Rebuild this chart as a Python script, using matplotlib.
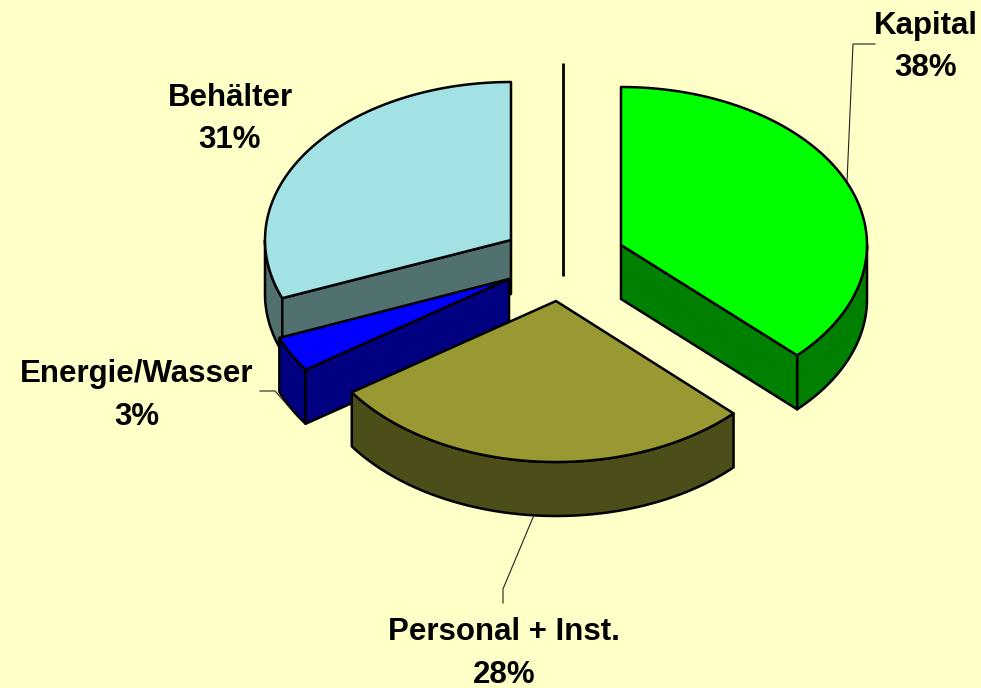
import numpy as np
import matplotlib
matplotlib.use("Agg")
import matplotlib.pyplot as plt
from matplotlib.patches import Polygon

# data
categories = ["Kapital", "Personal + Inst.", "Energie/Wasser", "Behälter"]
shares = [37.3, 28.1, 3.6, 31.0]          # slice shares
pct_labels = ["38%", "28%", "3%", "31%"]

# styles / layout (pixel space of the 981x688 image)
top_colors = ["#00FF00", "#999933", "#0000FF", "#A2E2E4"]
side_colors = ["#008000", "#4D4D19", "#000080", "#517070"]
apexes = [(621, 245), (556, 301), (509, 279), (511, 240)]
radii = [(246, 158), (248, 161), (247, 160), (246, 158)]
label_pos = [(926, 47), (504, 653.5), (137, 395.5), (230, 119)]
leaders = [[(875, 44), (853, 44), (847, 182)],
           [(503, 603), (503, 589), (534, 515)],
           [(260, 391), (275, 391), (290, 408)]]
DEPTH = 54
BG = "#FFFFC8"
plt.rcParams["font.family"] = ["Liberation Sans", "DejaVu Sans"]

fig = plt.figure(figsize=(9.81, 6.88), dpi=100, facecolor=BG)
ax = fig.add_axes([0, 0, 1, 1])
ax.set_xlim(0, 981)
ax.set_ylim(688, 0)
ax.axis("off")


def rim(apex, rad, t0, t1):
    t = np.radians(np.linspace(t0, t1, 80))
    return np.column_stack([apex[0] + rad[0] * np.sin(t), apex[1] - rad[1] * np.cos(t)])


def poly(pts, color, z):
    ax.add_patch(Polygon(pts, closed=True, facecolor=color, edgecolor="black",
                         linewidth=1.8, joinstyle="round", zorder=z))


edges = np.concatenate([[0], np.cumsum(shares)]) / np.sum(shares) * 360
down = np.array([0, DEPTH])
for i, z in zip([3, 2, 0, 1], [1, 2, 3, 4]):
    t0, t1 = edges[i], edges[i + 1]
    a = np.array(apexes[i], dtype=float)
    rad = radii[i]
    # outer wall: only the part of the rim on the front half (t in 90..270)
    lo, hi = max(t0, 90), min(t1, 270)
    if lo < hi:
        r = rim(a, rad, lo, hi)
        poly(np.vstack([r, (r + down)[::-1]]), side_colors[i], z)
    # cut faces that look towards the viewer
    if categories[i] in ("Energie/Wasser", "Behälter"):
        p = rim(a, rad, t0, t0)[0]
        poly([a, p, p + down, a + down], side_colors[i], z)
    if categories[i] == "Kapital":
        p = rim(a, rad, t1, t1)[0]
        poly([a, p, p + down, a + down], side_colors[i], z)
    poly(np.vstack([[a], rim(a, rad, t0, t1)]), top_colors[i], z + 0.5)

# upright stroke behind the pie
ax.plot([562.5, 562.5], [63, 276], color="black", lw=2, solid_capstyle="butt", zorder=0.5)

for pts in leaders:
    xy = np.array(pts)
    ax.plot(xy[:, 0], xy[:, 1], color="#222222", lw=0.8, zorder=6)

for name, pct, (x, y) in zip(categories, pct_labels, label_pos):
    ax.text(x, y, f"{name}\n{pct}", ha="center", va="center", fontsize=22.5,
            fontweight="bold", color="black", linespacing=1.55, zorder=7)

fig.savefig("out.png", dpi=100, facecolor=BG)
